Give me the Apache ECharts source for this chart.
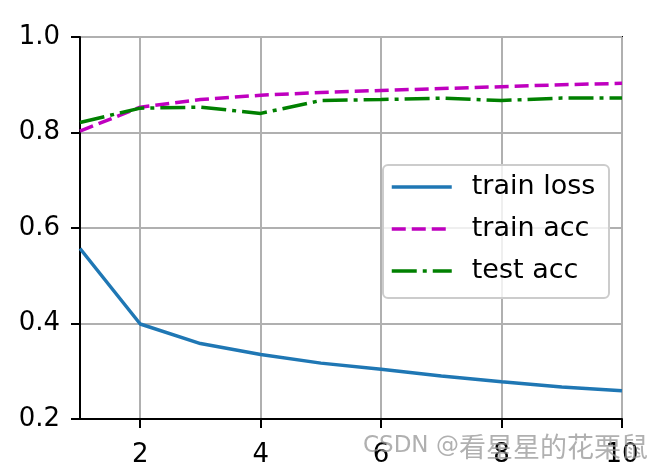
<!DOCTYPE html>
<html>
<head>
<meta charset="utf-8">
<script src="https://cdn.jsdelivr.net/npm/echarts@6/dist/echarts.min.js"></script>
<style>html,body{margin:0;padding:0;background:#fff}#c{width:666px;height:468px}</style>
</head>
<body>
<div id="c"></div>
<script>
const epochs = [1, 2, 3, 4, 5, 6, 7, 8, 9, 10];
const trainLoss = [0.557, 0.399, 0.358, 0.335, 0.317, 0.304, 0.290, 0.278, 0.267, 0.259];
const trainAcc = [0.803, 0.853, 0.869, 0.878, 0.884, 0.888, 0.892, 0.896, 0.900, 0.903];
const testAcc = [0.821, 0.851, 0.853, 0.840, 0.867, 0.869, 0.872, 0.867, 0.872, 0.872];
const xTicks = [2, 4, 6, 8, 10];
const seriesNames = ['train loss', 'train acc', 'test acc'];
const watermarkLatin = 'CSDN @';
const watermarkCjk = '看星星的花栗鼠';

const FONT = 'DejaVu Sans';
const chart = echarts.init(document.getElementById('c'), null, {renderer: 'canvas'});
const pairs = arr => epochs.map((e, i) => [e, arr[i]]);

chart.setOption({
  animation: false,
  backgroundColor: '#fff',
  grid: {left: 80, right: 44, top: 37, bottom: 47, show: true, borderColor: '#000', borderWidth: 2, backgroundColor: 'transparent'},
  xAxis: {
    type: 'value', min: 1, max: 10,
    axisLine: {show: true, lineStyle: {color: '#000', width: 2}},
    axisTick: {show: true, length: 9, lineStyle: {color: '#000', width: 2}, customValues: xTicks},
    axisLabel: {customValues: xTicks, color: '#000', fontSize: 26, fontFamily: FONT, margin: 23},
    splitLine: {show: true, lineStyle: {color: '#b0b0b0', width: 2}}
  },
  yAxis: {
    type: 'value', min: 0.2, max: 1.0, interval: 0.2,
    axisLine: {show: true, lineStyle: {color: '#000', width: 2}},
    axisTick: {show: true, length: 9, lineStyle: {color: '#000', width: 2}},
    axisLabel: {color: '#000', fontSize: 26, fontFamily: FONT, margin: 20, formatter: v => v.toFixed(1)},
    splitLine: {show: true, lineStyle: {color: '#b0b0b0', width: 2}}
  },
  legend: {
    z: 100,
    orient: 'vertical', left: 390, top: 172, padding: 0, itemGap: 12,
    itemWidth: 60, itemHeight: 14,
    itemStyle: {opacity: 0},
    lineStyle: {width: 3.5},
    textStyle: {fontSize: 27, fontFamily: FONT, color: '#000', lineHeight: 30, padding: [0, 0, 0, 15]},
    data: seriesNames
  },
  graphic: [
    {type: 'rect', left: 382, top: 164, z: 90, shape: {width: 226, height: 133, r: 5},
     style: {fill: 'rgba(255,255,255,0.8)', stroke: '#cccccc', lineWidth: 2}},
    {type: 'text', left: 363, top: 433, z: 200,
     style: {
       text: '{a|' + watermarkLatin + '}{b|' + watermarkCjk + '}',
       fill: 'rgba(150,150,150,0.75)',
       rich: {
         a: {fontSize: 23, fontFamily: 'DejaVu Sans', fill: 'rgba(150,150,150,0.75)'},
         b: {fontSize: 27, fontFamily: 'Noto Sans CJK SC', fill: 'rgba(150,150,150,0.75)'}
       }
     }}
  ],
  series: [
    {name: seriesNames[0], type: 'line', data: pairs(trainLoss), symbol: 'none', lineStyle: {color: '#1f77b4', width: 3.5}, itemStyle: {color: '#1f77b4'}},
    {name: seriesNames[1], type: 'line', data: pairs(trainAcc), symbol: 'none', lineStyle: {color: '#bf00bf', width: 3.5, type: [14, 6]}, itemStyle: {color: '#bf00bf'}},
    {name: seriesNames[2], type: 'line', data: pairs(testAcc), symbol: 'none', lineStyle: {color: '#008000', width: 3.5, type: [25, 6, 4, 6]}, itemStyle: {color: '#008000'}}
  ]
});
</script>
</body>
</html>
